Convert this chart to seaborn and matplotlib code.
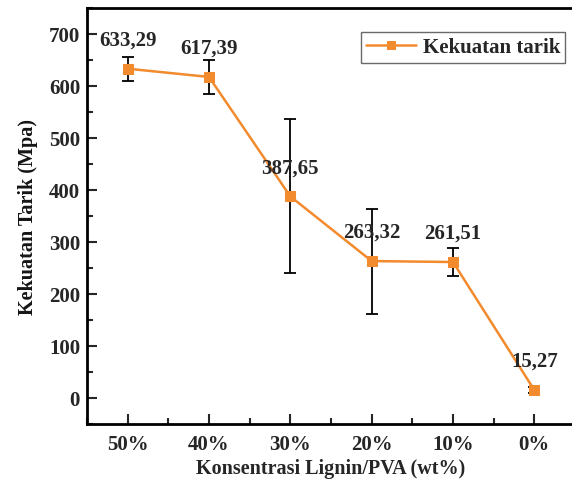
import pandas as pd
import matplotlib.pyplot as plt
import numpy as np
import seaborn as sns
from matplotlib.ticker import MultipleLocator

sns.set_style('white')
plt.rcParams['font.family'] = ['Liberation Serif', 'DejaVu Serif']
plt.rcParams['font.weight'] = 'bold'

# data
concentration = ['50%', '40%', '30%', '20%', '10%', '0%']
strength = [633.29, 617.39, 387.65, 263.32, 261.51, 15.27]
strength_err = [23, 32, 148, 101, 27, 5]
value_labels = ['633,29', '617,39', '387,65', '263,32', '261,51', '15,27']

orange = '#F28A2E'

df = pd.DataFrame({'pos': np.arange(len(concentration)), 'strength': strength, 'err': strength_err})

fig = plt.figure(figsize=(5.72, 4.81), dpi=100)
ax = fig.add_axes([87/572, 56/481, 488/572, 416/481])

ax.errorbar(df['pos'], df['strength'], df['err'], fmt='none', ecolor='black',
            elinewidth=1.3, capsize=4, capthick=1.3, zorder=2)
sns.lineplot(data=df, x='pos', y='strength', color=orange, marker='s', markersize=6.5,
             markeredgecolor=orange, linewidth=1.8, label='Kekuatan tarik', ax=ax, zorder=3)

for x, y, txt in zip(df['pos'], df['strength'], value_labels):
    ax.annotate(txt, (x, y), xytext=(0, 21), textcoords='offset points', ha='center',
                va='center', fontsize=15, fontweight='bold')

ax.set_xlim(-0.5, 5.5)
ax.set_ylim(-50, 750)
ax.set_xticks(df['pos'])
ax.set_xticklabels(concentration)
ax.xaxis.set_minor_locator(MultipleLocator(0.5))
ax.yaxis.set_major_locator(MultipleLocator(100))
ax.yaxis.set_minor_locator(MultipleLocator(50))
ax.tick_params(which='major', direction='in', length=7, width=1.5, labelsize=15)
ax.tick_params(axis='x', pad=7)
ax.tick_params(axis='y', pad=5)
ax.tick_params(which='minor', direction='in', length=4, width=1.5)
ax.tick_params(which='both', left=True, bottom=True, right=False, top=False)
for lbl in ax.get_xticklabels() + ax.get_yticklabels():
    lbl.set_fontweight('bold')
for sp in ax.spines.values():
    sp.set_linewidth(2)
    sp.set_color('black')

ax.set_xlabel('Konsentrasi Lignin/PVA (wt%)', fontsize=14.5, fontweight='bold', labelpad=3)
ax.set_ylabel('Kekuatan Tarik (Mpa)', fontsize=14.5, fontweight='bold', color='#151515', labelpad=8)

leg = ax.legend(loc='upper right', bbox_to_anchor=(0.98, 0.942), borderaxespad=0,
                fontsize=15, frameon=True, fancybox=False, edgecolor='#444444',
                handlelength=2.4, borderpad=0.25, handletextpad=0.3, markerscale=0.8)
leg.get_frame().set_linewidth(1)
for t in leg.get_texts():
    t.set_fontweight('bold')

plt.savefig('out.png', dpi=100)
